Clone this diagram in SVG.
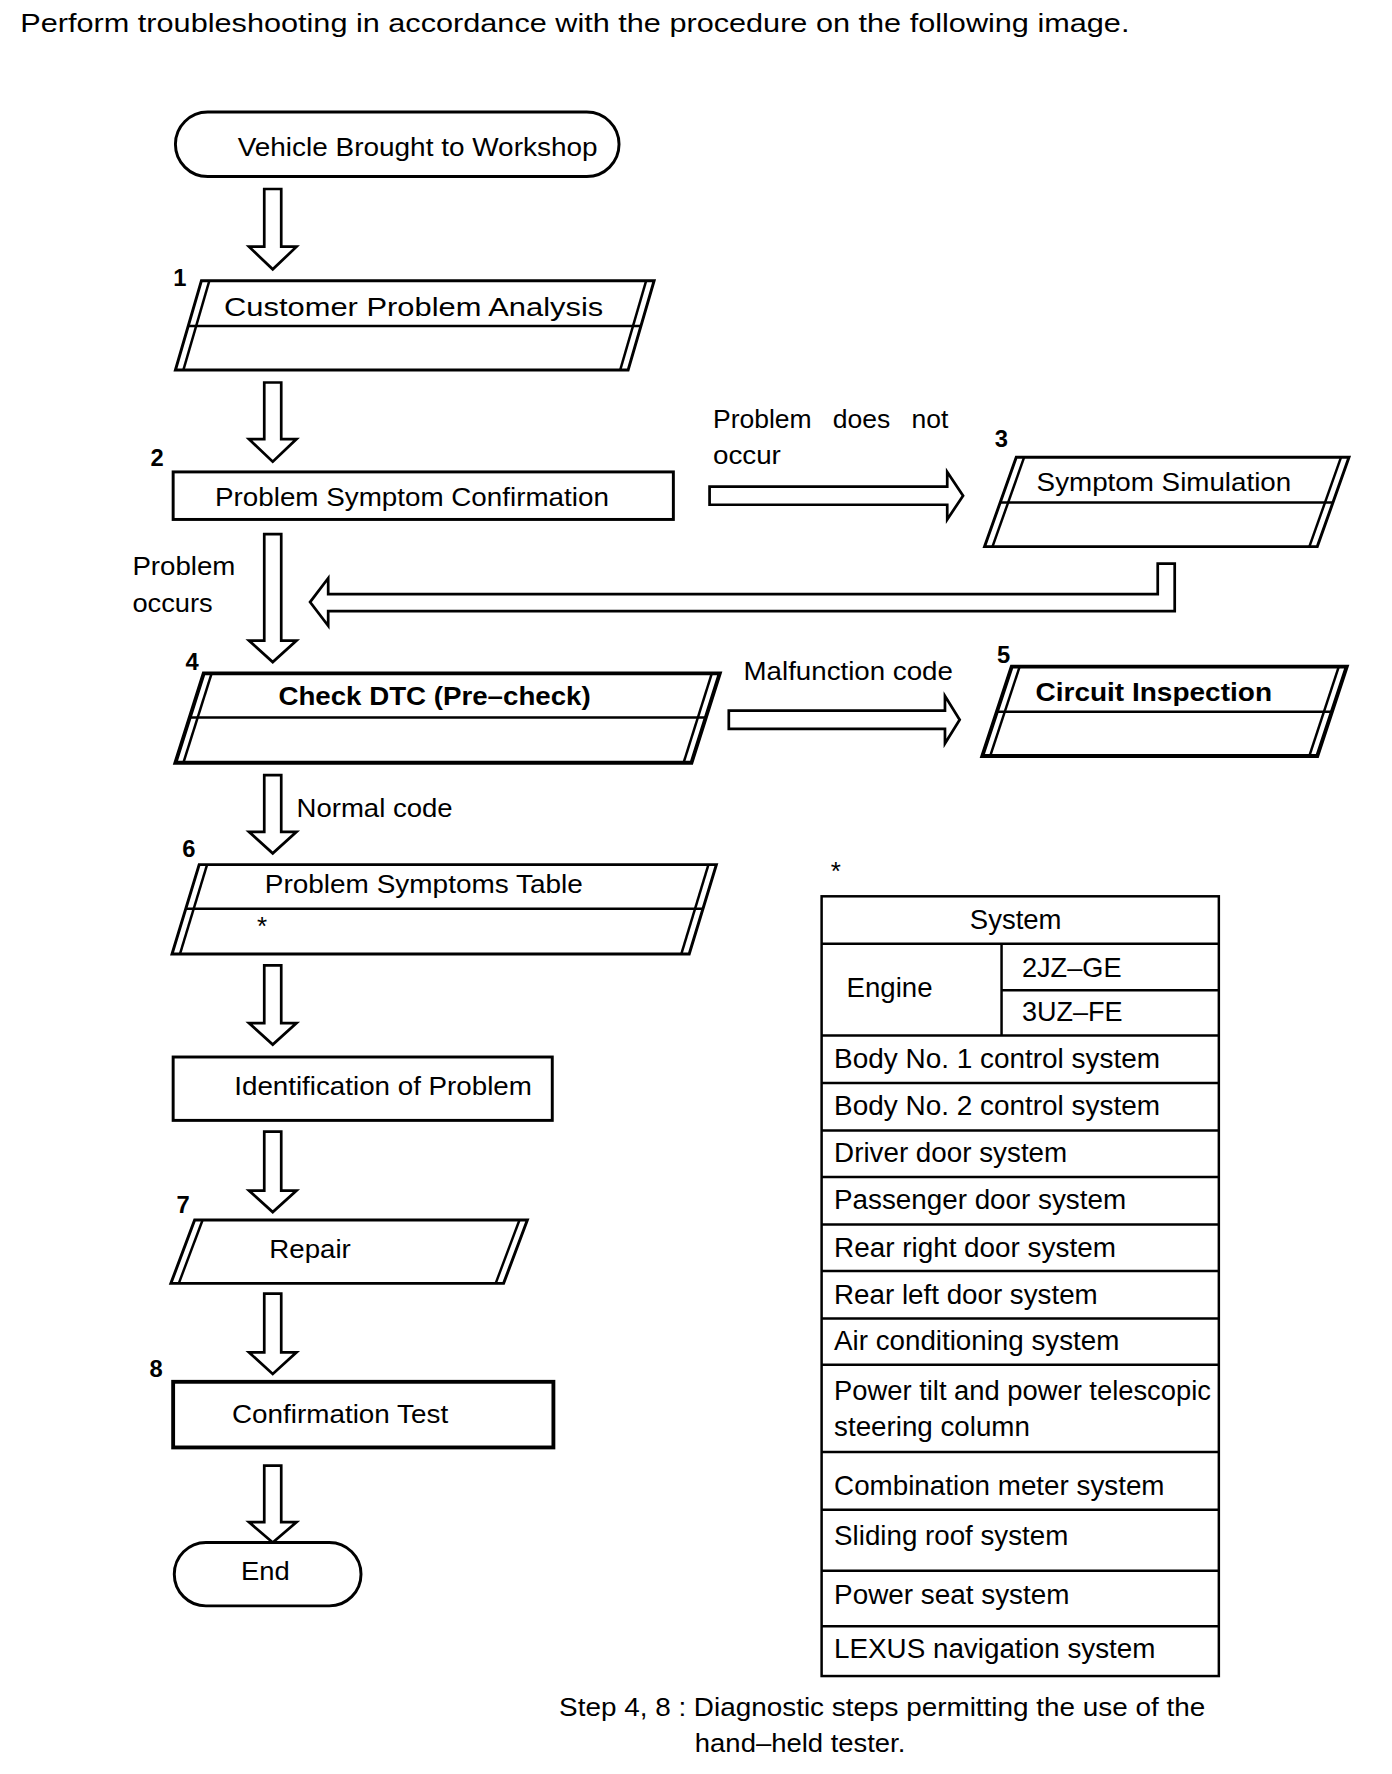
<svg xmlns="http://www.w3.org/2000/svg" width="1392" height="1774" viewBox="0 0 1392 1774">
<style>
text{font-family:"Liberation Sans",Arial,sans-serif;fill:#000;font-size:23px}
.b{font-weight:bold}
.n{font-weight:bold;font-size:21px}
.t{font-size:24.5px}
.box{fill:#fff;stroke:#000;stroke-width:2.6}
.thick{stroke-width:3.4}
.ln{fill:none;stroke:#000;stroke-width:2.2}
.arr{fill:#fff;stroke:#000;stroke-width:2.4;stroke-linejoin:miter}
.tbl{fill:none;stroke:#000;stroke-width:2.2}
</style>
<rect width="1392" height="1774" fill="#fff"/>
<g transform="scale(1.1317)">
<text x="18" y="28" font-size="23.5" textLength="980" lengthAdjust="spacingAndGlyphs">Perform troubleshooting in accordance with the procedure on the following image.</text>

<g id="connectors">
<path class="arr" d="M233.5,167 H248.5 V218 H262 L241,238 L220,218 H233.5 Z"/>
<path class="arr" d="M233.5,338 H248.5 V388 H262 L241,408 L220,388 H233.5 Z"/>
<path class="arr" d="M233.5,472 H248.5 V566 H262 L241,585 L220,566 H233.5 Z"/>
<path class="arr" d="M233.5,685 H248.5 V735 H262 L241,754 L220,735 H233.5 Z"/>
<path class="arr" d="M233.5,853 H248.5 V904 H262 L241,923 L220,904 H233.5 Z"/>
<path class="arr" d="M233.5,1000 H248.5 V1052 H262 L241,1071 L220,1052 H233.5 Z"/>
<path class="arr" d="M233.5,1143 H248.5 V1195 H262 L241,1214 L220,1195 H233.5 Z"/>
<path class="arr" d="M233.5,1295 H248.5 V1345 H262 L241,1363 L220,1345 H233.5 Z"/>
<path class="arr" d="M627,430 H837 V417 L851,438 L837,459 V446 H627 Z"/>
<path class="arr" d="M644,628 H835 V615 L848,636 L835,657 V644 H644 Z"/>
<path class="arr" d="M1023,498 H1038 V540 H290 V553 L274,532 L290,511 V525 H1023 Z"/>
<text x="630" y="378" word-spacing="12" textLength="208" lengthAdjust="spacingAndGlyphs">Problem does not</text>
<text x="630" y="410" textLength="60" lengthAdjust="spacingAndGlyphs">occur</text>
<text x="117" y="508" textLength="91" lengthAdjust="spacingAndGlyphs">Problem</text>
<text x="117" y="541" textLength="71" lengthAdjust="spacingAndGlyphs">occurs</text>
<text x="657" y="601" textLength="185" lengthAdjust="spacingAndGlyphs">Malfunction code</text>
<text x="262" y="722" textLength="138" lengthAdjust="spacingAndGlyphs">Normal code</text>
</g>

<g id="start">
<rect class="box" x="155" y="99" width="392" height="57" rx="28.5"/>
<text x="210" y="138" textLength="318" lengthAdjust="spacingAndGlyphs">Vehicle Brought to Workshop</text>
</g>

<g id="step1">
<text class="n" x="153" y="253">1</text>
<polygon class="box" points="178,248 578,248 555,327 155,327"/>
<line class="ln" x1="185" y1="248" x2="162" y2="327"/>
<line class="ln" x1="571" y1="248" x2="548" y2="327"/>
<line class="ln" x1="166" y1="288" x2="567" y2="288"/>
<text x="198" y="279" font-size="24.5" textLength="335" lengthAdjust="spacingAndGlyphs">Customer Problem Analysis</text>
</g>

<g id="step2">
<text class="n" x="133" y="412">2</text>
<rect class="box" x="153" y="417" width="442" height="42"/>
<text x="190" y="447" textLength="348" lengthAdjust="spacingAndGlyphs">Problem Symptom Confirmation</text>
</g>

<g id="step3">
<text class="n" x="879" y="395">3</text>
<polygon class="box" points="898,404 1192,404 1164,483 870,483"/>
<line class="ln" x1="905" y1="404" x2="877" y2="483"/>
<line class="ln" x1="1185" y1="404" x2="1157" y2="483"/>
<line class="ln" x1="884" y1="444" x2="1178" y2="444"/>
<text x="916" y="434" textLength="225" lengthAdjust="spacingAndGlyphs">Symptom Simulation</text>
</g>

<g id="step4">
<text class="n" x="164" y="592">4</text>
<polygon class="box thick" points="180,595 636,595 611,674 155,674"/>
<line class="ln" x1="187" y1="595" x2="162" y2="674"/>
<line class="ln" x1="629" y1="595" x2="604" y2="674"/>
<line class="ln" x1="168" y1="634" x2="624" y2="634"/>
<text class="b" x="246" y="623" textLength="276" lengthAdjust="spacingAndGlyphs">Check DTC (Pre–check)</text>
</g>

<g id="step5">
<text class="n" x="881" y="586">5</text>
<polygon class="box thick" points="894,589 1190,589 1164,668 868,668"/>
<line class="ln" x1="901" y1="589" x2="875" y2="668"/>
<line class="ln" x1="1183" y1="589" x2="1157" y2="668"/>
<line class="ln" x1="881" y1="629" x2="1177" y2="629"/>
<text class="b" x="915" y="619" textLength="209" lengthAdjust="spacingAndGlyphs">Circuit Inspection</text>
</g>

<g id="step6">
<text class="n" x="161" y="757">6</text>
<polygon class="box" points="176,764 633,764 609,843 152,843"/>
<line class="ln" x1="183" y1="764" x2="159" y2="843"/>
<line class="ln" x1="626" y1="764" x2="602" y2="843"/>
<line class="ln" x1="164" y1="803" x2="621" y2="803"/>
<text x="234" y="789" textLength="281" lengthAdjust="spacingAndGlyphs">Problem Symptoms Table</text>
<text x="227" y="826" font-size="16">*</text>
</g>

<g id="identification">
<rect class="box" x="153" y="934" width="335" height="56"/>
<text x="207" y="968" textLength="263" lengthAdjust="spacingAndGlyphs">Identification of Problem</text>
</g>

<g id="step7">
<text class="n" x="156" y="1072">7</text>
<polygon class="box" points="172,1078 466,1078 445,1134 151,1134"/>
<line class="ln" x1="179" y1="1078" x2="158" y2="1134"/>
<line class="ln" x1="459" y1="1078" x2="438" y2="1134"/>
<text x="238" y="1112" textLength="72" lengthAdjust="spacingAndGlyphs">Repair</text>
</g>

<g id="step8">
<text class="n" x="132" y="1217">8</text>
<rect class="box thick" x="153" y="1221" width="336" height="58"/>
<text x="205" y="1257" textLength="191" lengthAdjust="spacingAndGlyphs">Confirmation Test</text>
</g>

<g id="end">
<rect class="box" x="154" y="1363" width="165" height="56" rx="28"/>
<text x="213" y="1396" textLength="43" lengthAdjust="spacingAndGlyphs">End</text>
</g>

<g id="system-table">
<text x="734" y="778" font-size="16">*</text>
<rect class="tbl" x="726" y="792" width="351" height="689"/>
<line class="tbl" x1="726" y1="834" x2="1077" y2="834"/>
<line class="tbl" x1="885" y1="834" x2="885" y2="915"/>
<line class="tbl" x1="885" y1="875" x2="1077" y2="875"/>
<line class="tbl" x1="726" y1="915" x2="1077" y2="915"/>
<line class="tbl" x1="726" y1="957" x2="1077" y2="957"/>
<line class="tbl" x1="726" y1="999" x2="1077" y2="999"/>
<line class="tbl" x1="726" y1="1040" x2="1077" y2="1040"/>
<line class="tbl" x1="726" y1="1082" x2="1077" y2="1082"/>
<line class="tbl" x1="726" y1="1123" x2="1077" y2="1123"/>
<line class="tbl" x1="726" y1="1165" x2="1077" y2="1165"/>
<line class="tbl" x1="726" y1="1206" x2="1077" y2="1206"/>
<line class="tbl" x1="726" y1="1283" x2="1077" y2="1283"/>
<line class="tbl" x1="726" y1="1334" x2="1077" y2="1334"/>
<line class="tbl" x1="726" y1="1388" x2="1077" y2="1388"/>
<line class="tbl" x1="726" y1="1437" x2="1077" y2="1437"/>
<text class="t" x="857" y="821" textLength="81" lengthAdjust="spacingAndGlyphs">System</text>
<text class="t" x="748" y="881" textLength="76" lengthAdjust="spacingAndGlyphs">Engine</text>
<text class="t" x="903" y="863" textLength="88" lengthAdjust="spacingAndGlyphs">2JZ–GE</text>
<text class="t" x="903" y="902" textLength="89" lengthAdjust="spacingAndGlyphs">3UZ–FE</text>
<text class="t" x="737" y="944" textLength="288" lengthAdjust="spacingAndGlyphs">Body No. 1 control system</text>
<text class="t" x="737" y="985" textLength="288" lengthAdjust="spacingAndGlyphs">Body No. 2 control system</text>
<text class="t" x="737" y="1027" textLength="206" lengthAdjust="spacingAndGlyphs">Driver door system</text>
<text class="t" x="737" y="1068" textLength="258" lengthAdjust="spacingAndGlyphs">Passenger door system</text>
<text class="t" x="737" y="1111" textLength="249" lengthAdjust="spacingAndGlyphs">Rear right door system</text>
<text class="t" x="737" y="1152" textLength="233" lengthAdjust="spacingAndGlyphs">Rear left door system</text>
<text class="t" x="737" y="1193" textLength="252" lengthAdjust="spacingAndGlyphs">Air conditioning system</text>
<text class="t" x="737" y="1237" textLength="333" lengthAdjust="spacingAndGlyphs">Power tilt and power telescopic</text>
<text class="t" x="737" y="1269" textLength="173" lengthAdjust="spacingAndGlyphs">steering column</text>
<text class="t" x="737" y="1321" textLength="292" lengthAdjust="spacingAndGlyphs">Combination meter system</text>
<text class="t" x="737" y="1365" textLength="207" lengthAdjust="spacingAndGlyphs">Sliding roof system</text>
<text class="t" x="737" y="1417" textLength="208" lengthAdjust="spacingAndGlyphs">Power seat system</text>
<text class="t" x="737" y="1465" textLength="284" lengthAdjust="spacingAndGlyphs">LEXUS navigation system</text>
</g>

<g id="footnote">
<text x="494" y="1516" textLength="571" lengthAdjust="spacingAndGlyphs">Step 4, 8 : Diagnostic steps permitting the use of the</text>
<text x="614" y="1548" textLength="186" lengthAdjust="spacingAndGlyphs">hand–held tester.</text>
</g>
</g>
</svg>
